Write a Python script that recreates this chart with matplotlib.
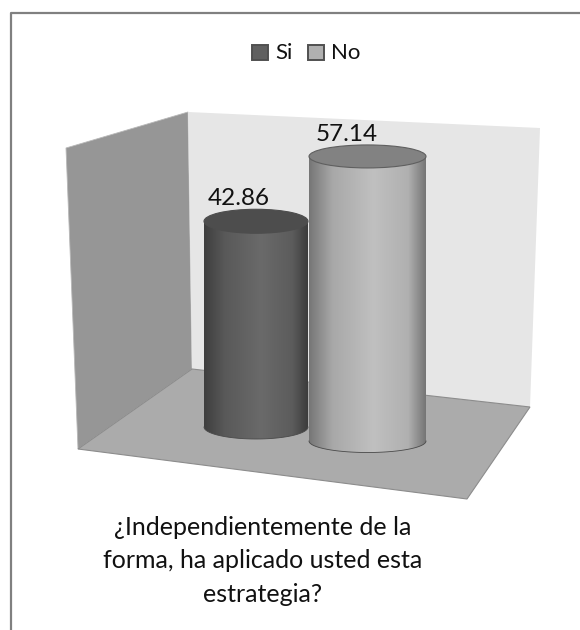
import numpy as np
import matplotlib.pyplot as plt
from matplotlib.patches import Polygon, Rectangle, Ellipse, PathPatch
from matplotlib.path import Path
from matplotlib.colors import LinearSegmentedColormap

plt.rcParams['font.family'] = ['Lato', 'DejaVu Sans']

labels = ['Si', 'No']
values = [42.86, 57.14]
question = '¿Independientemente de la\nforma, ha aplicado usted esta\nestrategia?'

# cylinder geometry in pixels; the nearer cylinder is drawn bigger
left_x = [204, 309]
right_x = [308, 426]
base_y = [427, 441]
px_per_unit = [4.8, 4.98]
ry = [12, 11.5]
label_shift = [-17, -21]
shade_stops = [0, 0.2, 0.55, 0.85, 1]
side_colors = [['#3e3e3e', '#595959', '#6a6a6a', '#5c5c5c', '#3c3c3c'],
               ['#767676', '#a8a8a8', '#c0c0c0', '#b0b0b0', '#757575']]
top_colors = ['#4d4d4d', '#828282']
top_edges = ['#4d4d4d', '#5f5f5f']
swatch_colors = ['#606060', '#b0b0b0']

fig = plt.figure(figsize=(5.8, 6.3), dpi=100)
ax = fig.add_axes([0, 0, 1, 1])


def cylinder(ax, i):
    x0, x1 = left_x[i], right_x[i]
    cx = (x0 + x1) / 2
    rx = (x1 - x0) / 2
    y_base = base_y[i]
    y_top = y_base - values[i] * px_per_unit[i]

    # side of the cylinder with the rounded bottom edge
    t = np.linspace(np.pi, 0, 60)
    xs = cx + rx * np.cos(t)
    ys = y_base + ry[i] * np.sin(t)
    verts = [(x0, y_top)] + list(zip(xs, ys)) + [(x1, y_top), (x0, y_top)]
    path = Path(verts)
    cmap = LinearSegmentedColormap.from_list('side', list(zip(shade_stops, side_colors[i])))
    grad = np.linspace(0, 1, 256).reshape(1, -1)
    im = ax.imshow(grad, cmap=cmap, extent=(x0, x1, y_base + ry[i], y_top),
                   aspect='auto', zorder=3 + i, interpolation='bilinear')
    im.set_clip_path(PathPatch(path, transform=ax.transData))
    ax.plot(xs, ys, color='#4a4a4a', lw=0.6, zorder=3.1 + i)

    # top ellipse
    ax.add_patch(Ellipse((cx, y_top), 2 * rx, 2 * ry[i], fc=top_colors[i],
                         ec=top_edges[i], lw=0.8, zorder=3.2 + i))
    ax.text(cx + label_shift[i], y_top - ry[i], '%.2f' % values[i], fontsize=17.5,
            ha='center', va='bottom', color='#111111', zorder=6)


# outer frame, open at the bottom
ax.plot([10.5, 10.5, 580], [630, 12.5, 12.5], color='#808080', lw=1.6, zorder=1)

# walls and floor
ax.add_patch(Polygon([(66, 148), (188, 112), (192, 369), (78, 449)],
                     fc='#969696', ec='#b8b8b8', lw=0.6, zorder=2))
ax.add_patch(Polygon([(188, 112), (540, 128), (530, 407), (192, 369)],
                     fc='#e6e6e6', ec='none', zorder=2))
ax.add_patch(Polygon([(192, 369), (530, 407), (467, 499), (78, 449)],
                     fc='#ababab', ec='#8c8c8c', lw=0.8, zorder=2.1))

for i in range(len(values)):
    cylinder(ax, i)

# legend
ax.add_patch(Rectangle((252, 45), 16, 15, fc=swatch_colors[0], ec='#505050', lw=1.4, zorder=5))
ax.text(275, 53, labels[0], fontsize=16, va='center', color='#111111')
ax.add_patch(Rectangle((308, 45), 16, 15, fc=swatch_colors[1], ec='#505050', lw=1.4, zorder=5))
ax.text(331, 53, labels[1], fontsize=16, va='center', color='#111111')

ax.text(263, 561, question, fontsize=18, ha='center', va='center',
        linespacing=1.55, color='#111111')

ax.set_xlim(0, 580)
ax.set_ylim(630, 0)
ax.axis('off')
fig.savefig('out.png', dpi=100)
